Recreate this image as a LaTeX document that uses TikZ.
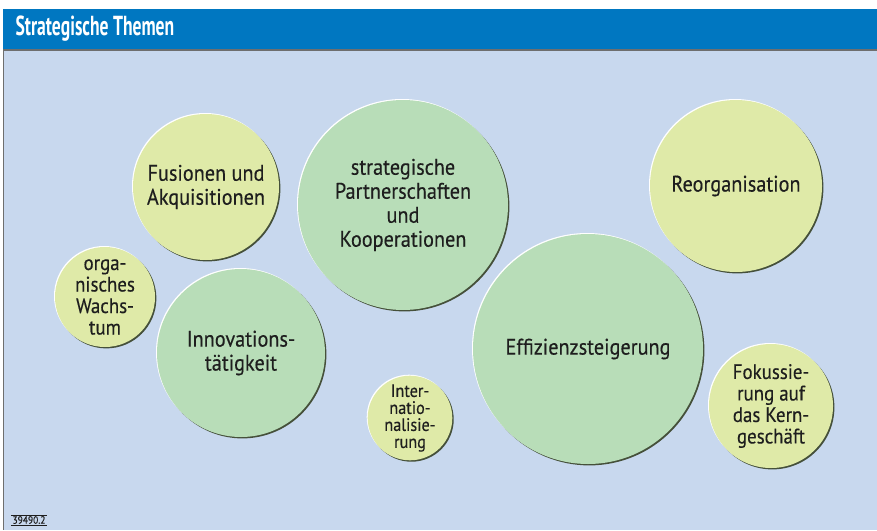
\documentclass[tikz,border=0pt]{standalone}
\usepackage{fontspec}
\setmainfont{PT Sans}
\newfontfamily\headfont[FakeStretch=0.64]{PT Sans}
\newfontfamily\bubblefont[FakeStretch=0.9, FakeBold=0.3]{PT Sans}
\definecolor{headblue}{HTML}{0077C1}
\definecolor{paneblue}{HTML}{C8D8EE}
\definecolor{framegray}{HTML}{6E6E6E}
\definecolor{lime}{HTML}{DFEAA8}
\definecolor{mint}{HTML}{B8DDB8}
\definecolor{rim}{HTML}{45503A}
\definecolor{ink}{HTML}{1E1E1E}
\begin{document}
\begin{tikzpicture}[x=1pt,y=-1pt, line join=round, line cap=round,
    bubble/.style={circle, inner sep=0pt, align=center, text=ink,
      preaction={fill=rim, transform canvas={shift={(1.4pt,-1.4pt)}}},
      preaction={fill=white, transform canvas={shift={(-1pt,1pt)}}}},
    big/.style={font=\bubblefont\fontsize{22.5}{24}\selectfont},
    mid/.style={font=\bubblefont\fontsize{21}{21.5}\selectfont},
    tiny/.style={font=\bubblefont\fontsize{18}{17}\selectfont}]
  % frame
  \useasboundingbox (0,0) rectangle (877,530);
  \fill[white] (0,0) rectangle (877,530);
  \fill[headblue] (3,9) rectangle (877,49);
  \fill[paneblue] (3,49) rectangle (877,530);
  \draw[framegray, line width=2pt, line cap=butt] (3,50) -- (877,50);
  \draw[framegray, line width=1.2pt, line cap=butt] (3.6,49) -- (3.6,530);
  \node[anchor=west, text=white, font=\headfont\bfseries\fontsize{27.5}{30}\selectfont] (title) at (12,29) {Strategische Themen};
  % bubbles
  \node[bubble, big, fill=lime, minimum size=146pt] (fus) at (206,187) {Fusionen und\\Akquisitionen};
  \node[bubble, big, fill=mint, minimum size=210pt] (part) at (403,205) {strategische\\Partnerschaften\\und\\Kooperationen};
  \node[bubble, big, fill=lime, minimum size=172pt] (reorg) at (736,186) {Reorganisation};
  \node[bubble, mid, fill=lime, minimum size=100pt] (org) at (105,297) {orga-\\nisches\\Wachs-\\tum};
  \node[bubble, big, fill=mint, minimum size=168pt] (innov) at (241,353) {Innovations-\\tätigkeit};
  \node[bubble, big, fill=mint, minimum size=230pt] (eff) at (588,349) {Effizienzsteigerung};
  \node[bubble, tiny, fill=lime, minimum size=82pt] (intl) at (410,418) {Inter-\\natio-\\nalisie-\\rung};
  \node[bubble, mid, fill=lime, minimum size=124pt] (fok) at (771,406) {Fokussie-\\rung auf\\das Kern-\\geschäft};
  % reference number
  \node[font=\bubblefont\fontsize{10.5}{11}\selectfont, text=ink, inner sep=1pt] (ref) at (29,520) {39490.2};
  \draw[ink, line width=0.6pt] (ref.north west) -- (ref.north east);
  \draw[ink, line width=0.6pt] (ref.south west) -- (ref.south east);
\end{tikzpicture}
\end{document}
